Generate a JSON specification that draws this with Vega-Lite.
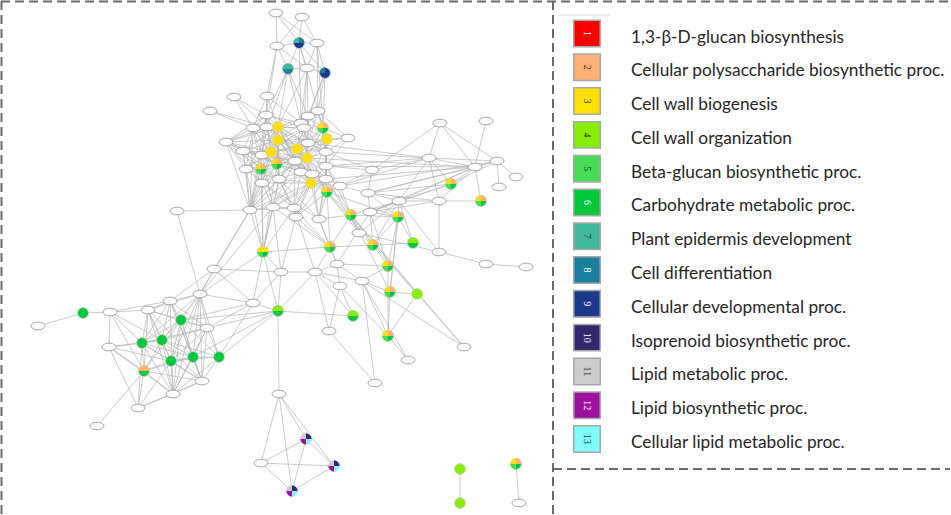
{
"$schema": "https://vega.github.io/schema/vega-lite/v6.json",
"width": 951, "height": 515,
"autosize": {"type": "fit", "contains": "padding"},
"padding": 0,
"background": "white",
"config": {"view": {"stroke": null}, "axis": {"disable": true}},
"datasets": {
"nodes": [
{"id":1,"x":276,"y":13,"k":"w"},{"id":2,"x":302,"y":17,"k":"w"},{"id":3,"x":277,"y":46,"k":"w"},{"id":4,"x":299,"y":43,"k":"c"},{"id":5,"x":317,"y":43,"k":"w"},
{"id":6,"x":288,"y":69,"k":"c"},{"id":7,"x":307,"y":68,"k":"w"},{"id":8,"x":325,"y":73,"k":"c"},{"id":9,"x":267,"y":96,"k":"w"},{"id":10,"x":318,"y":111,"k":"w"},
{"id":11,"x":308,"y":116,"k":"w"},{"id":12,"x":266,"y":115,"k":"w"},{"id":13,"x":301,"y":123,"k":"w"},{"id":14,"x":278,"y":127,"k":"c"},{"id":15,"x":323,"y":128,"k":"c"},
{"id":16,"x":267,"y":127,"k":"w"},{"id":17,"x":304,"y":128,"k":"w"},{"id":18,"x":278,"y":140,"k":"c"},{"id":19,"x":327,"y":139,"k":"c"},{"id":20,"x":348,"y":138,"k":"w"},
{"id":21,"x":253,"y":128,"k":"w"},{"id":22,"x":308,"y":143,"k":"w"},{"id":23,"x":271,"y":152,"k":"c"},{"id":24,"x":297,"y":149,"k":"c"},{"id":25,"x":326,"y":152,"k":"w"},
{"id":26,"x":307,"y":158,"k":"c"},{"id":27,"x":262,"y":155,"k":"w"},{"id":28,"x":277,"y":164,"k":"c"},{"id":29,"x":295,"y":161,"k":"w"},{"id":30,"x":261,"y":169,"k":"c"},
{"id":31,"x":246,"y":169,"k":"w"},{"id":33,"x":301,"y":172,"k":"w"},{"id":34,"x":312,"y":174,"k":"w"},{"id":35,"x":326,"y":166,"k":"w"},{"id":36,"x":326,"y":179,"k":"w"},
{"id":37,"x":311,"y":183,"k":"c"},{"id":38,"x":279,"y":179,"k":"w"},{"id":39,"x":262,"y":183,"k":"w"},{"id":40,"x":340,"y":186,"k":"w"},{"id":41,"x":327,"y":192,"k":"c"},
{"id":42,"x":372,"y":170,"k":"w"},{"id":43,"x":368,"y":193,"k":"w"},{"id":44,"x":250,"y":210,"k":"w"},{"id":45,"x":273,"y":207,"k":"w"},{"id":46,"x":294,"y":208,"k":"w"},
{"id":47,"x":296,"y":217,"k":"w"},{"id":48,"x":319,"y":219,"k":"w"},{"id":49,"x":351,"y":215,"k":"c"},{"id":50,"x":370,"y":212,"k":"w"},{"id":51,"x":399,"y":201,"k":"w"},
{"id":52,"x":398,"y":217,"k":"c"},{"id":53,"x":359,"y":233,"k":"w"},{"id":54,"x":413,"y":243,"k":"c"},{"id":55,"x":373,"y":245,"k":"c"},{"id":56,"x":330,"y":247,"k":"c"},
{"id":57,"x":263,"y":252,"k":"c"},{"id":58,"x":439,"y":252,"k":"w"},{"id":59,"x":429,"y":158,"k":"w"},{"id":60,"x":440,"y":123,"k":"w"},{"id":61,"x":486,"y":121,"k":"w"},
{"id":62,"x":475,"y":167,"k":"w"},{"id":63,"x":497,"y":161,"k":"w"},{"id":64,"x":516,"y":177,"k":"w"},{"id":65,"x":499,"y":187,"k":"w"},{"id":66,"x":451,"y":184,"k":"c"},
{"id":67,"x":481,"y":201,"k":"c"},{"id":68,"x":439,"y":201,"k":"w"},{"id":69,"x":234,"y":97,"k":"w"},{"id":70,"x":210,"y":111,"k":"w"},{"id":71,"x":226,"y":142,"k":"w"},
{"id":72,"x":243,"y":151,"k":"w"},{"id":73,"x":177,"y":211,"k":"w"},{"id":74,"x":388,"y":266,"k":"c"},{"id":75,"x":281,"y":272,"k":"w"},{"id":76,"x":315,"y":272,"k":"w"},
{"id":77,"x":337,"y":264,"k":"w"},{"id":78,"x":362,"y":281,"k":"w"},{"id":79,"x":340,"y":286,"k":"w"},{"id":80,"x":390,"y":292,"k":"c"},{"id":81,"x":417,"y":294,"k":"c"},
{"id":82,"x":253,"y":303,"k":"w"},{"id":83,"x":278,"y":311,"k":"c"},{"id":84,"x":353,"y":316,"k":"c"},{"id":85,"x":329,"y":331,"k":"w"},{"id":86,"x":486,"y":264,"k":"w"},
{"id":87,"x":526,"y":267,"k":"w"},{"id":88,"x":388,"y":336,"k":"c"},{"id":89,"x":464,"y":347,"k":"w"},{"id":90,"x":408,"y":360,"k":"w"},{"id":91,"x":375,"y":383,"k":"w"},
{"id":92,"x":279,"y":394,"k":"w"},{"id":93,"x":306,"y":439,"k":"c"},{"id":94,"x":261,"y":463,"k":"w"},{"id":95,"x":334,"y":466,"k":"c"},{"id":96,"x":292,"y":491,"k":"c"},
{"id":97,"x":460,"y":469,"k":"c"},{"id":98,"x":460,"y":503,"k":"c"},{"id":99,"x":516,"y":464,"k":"c"},{"id":100,"x":519,"y":503,"k":"w"},{"id":101,"x":214,"y":269,"k":"w"},
{"id":102,"x":200,"y":294,"k":"w"},{"id":103,"x":170,"y":301,"k":"w"},{"id":104,"x":83,"y":313,"k":"c"},{"id":105,"x":110,"y":312,"k":"w"},{"id":106,"x":148,"y":310,"k":"w"},
{"id":107,"x":181,"y":320,"k":"c"},{"id":108,"x":207,"y":328,"k":"w"},{"id":109,"x":109,"y":347,"k":"w"},{"id":110,"x":142,"y":343,"k":"c"},{"id":111,"x":162,"y":340,"k":"c"},
{"id":112,"x":171,"y":361,"k":"c"},{"id":113,"x":193,"y":357,"k":"c"},{"id":114,"x":219,"y":357,"k":"c"},{"id":115,"x":144,"y":371,"k":"c"},{"id":116,"x":202,"y":381,"k":"w"},
{"id":117,"x":173,"y":394,"k":"w"},{"id":118,"x":138,"y":408,"k":"w"},{"id":119,"x":97,"y":426,"k":"w"},{"id":120,"x":38,"y":326,"k":"w"}
],
"slices": [
{"id":4,"part":"full","cat":9},{"id":6,"part":"full","cat":8},{"id":8,"part":"full","cat":9},
{"id":14,"part":"full","cat":3},{"id":18,"part":"full","cat":3},{"id":19,"part":"full","cat":3},{"id":23,"part":"full","cat":3},
{"id":24,"part":"full","cat":3},{"id":26,"part":"full","cat":3},{"id":37,"part":"full","cat":3},
{"id":15,"part":"full","cat":6},{"id":28,"part":"full","cat":6},{"id":30,"part":"full","cat":6},{"id":41,"part":"full","cat":6},
{"id":49,"part":"full","cat":6},{"id":52,"part":"full","cat":6},{"id":55,"part":"full","cat":6},{"id":56,"part":"full","cat":6},
{"id":57,"part":"full","cat":6},{"id":66,"part":"full","cat":6},{"id":67,"part":"full","cat":6},{"id":74,"part":"full","cat":6},
{"id":80,"part":"full","cat":6},{"id":88,"part":"full","cat":6},{"id":99,"part":"full","cat":6},
{"id":54,"part":"full","cat":6},{"id":83,"part":"full","cat":6},{"id":84,"part":"full","cat":6},{"id":81,"part":"full","cat":4},
{"id":97,"part":"full","cat":4},{"id":98,"part":"full","cat":4},
{"id":104,"part":"full","cat":6},{"id":107,"part":"full","cat":6},{"id":110,"part":"full","cat":6},{"id":111,"part":"full","cat":6},
{"id":112,"part":"full","cat":6},{"id":113,"part":"full","cat":6},{"id":114,"part":"full","cat":6},{"id":115,"part":"full","cat":6},
{"id":93,"part":"full","cat":11},{"id":95,"part":"full","cat":11},{"id":96,"part":"full","cat":11}
],
"parts": [
{"id":4,"part":"tl","cat":7},{"id":4,"part":"tr","cat":8},{"id":6,"part":"top","cat":7},{"id":8,"part":"tl","cat":8},
{"id":15,"part":"bl","cat":5},{"id":15,"part":"tl","cat":3},{"id":15,"part":"tr","cat":2},
{"id":28,"part":"bl","cat":5},{"id":28,"part":"tl","cat":3},{"id":28,"part":"tr","cat":2},
{"id":30,"part":"bl","cat":5},{"id":30,"part":"tl","cat":3},{"id":30,"part":"tr","cat":2},
{"id":41,"part":"bl","cat":5},{"id":41,"part":"tl","cat":3},{"id":41,"part":"tr","cat":2},
{"id":49,"part":"bl","cat":5},{"id":49,"part":"tl","cat":3},{"id":49,"part":"tr","cat":2},
{"id":52,"part":"bl","cat":5},{"id":52,"part":"tl","cat":3},{"id":52,"part":"tr","cat":2},
{"id":55,"part":"bl","cat":5},{"id":55,"part":"tl","cat":3},{"id":55,"part":"tr","cat":2},
{"id":56,"part":"bl","cat":5},{"id":56,"part":"tl","cat":3},{"id":56,"part":"tr","cat":2},
{"id":57,"part":"bl","cat":5},{"id":57,"part":"tl","cat":3},{"id":57,"part":"tr","cat":3},
{"id":66,"part":"bl","cat":5},{"id":66,"part":"tl","cat":3},{"id":66,"part":"tr","cat":2},
{"id":67,"part":"bl","cat":5},{"id":67,"part":"tl","cat":3},{"id":67,"part":"tr","cat":2},
{"id":74,"part":"bl","cat":5},{"id":74,"part":"tl","cat":3},{"id":74,"part":"tr","cat":2},
{"id":80,"part":"bl","cat":5},{"id":80,"part":"tl","cat":3},{"id":80,"part":"tr","cat":2},
{"id":88,"part":"bl","cat":5},{"id":88,"part":"tl","cat":3},{"id":88,"part":"tr","cat":2},
{"id":99,"part":"bl","cat":5},{"id":99,"part":"tl","cat":3},{"id":99,"part":"tr","cat":2},
{"id":54,"part":"top","cat":4},{"id":83,"part":"top","cat":4},{"id":84,"part":"top","cat":4},{"id":115,"part":"top","cat":2},
{"id":93,"part":"tr","cat":10},{"id":93,"part":"bl","cat":12},{"id":93,"part":"br","cat":13},
{"id":95,"part":"tr","cat":10},{"id":95,"part":"bl","cat":12},{"id":95,"part":"br","cat":13},
{"id":96,"part":"tr","cat":10},{"id":96,"part":"bl","cat":12},{"id":96,"part":"br","cat":13}
],
"edges": [
{"s":1,"t":3},{"s":1,"t":4},{"s":1,"t":5},{"s":2,"t":4},{"s":2,"t":5},{"s":2,"t":3},{"s":3,"t":4},{"s":4,"t":5},{"s":3,"t":6},{"s":3,"t":7},
{"s":4,"t":7},{"s":4,"t":6},{"s":5,"t":7},{"s":5,"t":8},{"s":6,"t":7},{"s":7,"t":8},{"s":4,"t":8},
{"s":6,"t":12},{"s":6,"t":16},{"s":6,"t":13},{"s":6,"t":11},{"s":7,"t":11},{"s":7,"t":13},{"s":7,"t":14},{"s":8,"t":10},{"s":8,"t":11},
{"s":8,"t":15},{"s":3,"t":9},{"s":3,"t":12},{"s":6,"t":14},{"s":4,"t":10},{"s":5,"t":10},{"s":7,"t":17},{"s":8,"t":17},{"s":4,"t":13},{"s":5,"t":15},
{"s":9,"t":12},{"s":9,"t":13},{"s":9,"t":16},{"s":9,"t":14},{"s":10,"t":11},{"s":10,"t":13},{"s":10,"t":15},{"s":10,"t":17},{"s":10,"t":19},{"s":10,"t":20},
{"s":11,"t":13},{"s":11,"t":14},{"s":11,"t":15},{"s":11,"t":17},{"s":11,"t":19},{"s":11,"t":22},{"s":12,"t":13},{"s":12,"t":14},{"s":12,"t":16},
{"s":12,"t":18},{"s":12,"t":21},{"s":12,"t":17},{"s":13,"t":14},{"s":13,"t":17},{"s":13,"t":15},{"s":13,"t":18},{"s":13,"t":24},
{"s":14,"t":16},{"s":14,"t":17},{"s":14,"t":18},{"s":14,"t":21},{"s":14,"t":22},{"s":14,"t":23},{"s":14,"t":24},{"s":14,"t":26},{"s":14,"t":27},
{"s":14,"t":28},{"s":14,"t":29},{"s":14,"t":31},{"s":14,"t":33},{"s":14,"t":37},{"s":14,"t":38},{"s":14,"t":71},{"s":14,"t":72},
{"s":15,"t":17},{"s":15,"t":19},{"s":15,"t":22},{"s":15,"t":24},{"s":15,"t":25},{"s":15,"t":26},{"s":15,"t":35},{"s":15,"t":20},
{"s":16,"t":17},{"s":16,"t":18},{"s":16,"t":21},{"s":16,"t":23},{"s":16,"t":27},{"s":16,"t":28},{"s":16,"t":71},{"s":17,"t":18},{"s":17,"t":19},
{"s":17,"t":22},{"s":17,"t":24},{"s":17,"t":26},
{"s":18,"t":19},{"s":18,"t":21},{"s":18,"t":22},{"s":18,"t":23},{"s":18,"t":24},{"s":18,"t":25},{"s":18,"t":26},{"s":18,"t":27},{"s":18,"t":28},
{"s":18,"t":30},{"s":18,"t":33},{"s":18,"t":37},{"s":18,"t":38},{"s":18,"t":39},{"s":18,"t":71},{"s":18,"t":72},
{"s":19,"t":20},{"s":19,"t":22},{"s":19,"t":24},{"s":19,"t":25},{"s":19,"t":26},{"s":19,"t":35},{"s":19,"t":36},{"s":19,"t":37},
{"s":21,"t":23},{"s":21,"t":27},{"s":21,"t":28},{"s":21,"t":30},{"s":21,"t":31},{"s":21,"t":71},{"s":21,"t":72},{"s":21,"t":69},{"s":21,"t":70},
{"s":22,"t":23},{"s":22,"t":24},{"s":22,"t":26},{"s":22,"t":29},
{"s":23,"t":24},{"s":23,"t":26},{"s":23,"t":27},{"s":23,"t":28},{"s":23,"t":29},{"s":23,"t":30},{"s":23,"t":31},{"s":23,"t":33},{"s":23,"t":37},
{"s":23,"t":38},{"s":23,"t":39},{"s":23,"t":44},{"s":23,"t":71},{"s":23,"t":72},
{"s":24,"t":25},{"s":24,"t":26},{"s":24,"t":28},{"s":24,"t":29},{"s":24,"t":33},{"s":24,"t":34},{"s":24,"t":35},{"s":24,"t":37},{"s":24,"t":38},{"s":24,"t":41},
{"s":25,"t":26},{"s":25,"t":35},{"s":25,"t":36},{"s":25,"t":42},{"s":25,"t":20},
{"s":26,"t":28},{"s":26,"t":29},{"s":26,"t":33},{"s":26,"t":34},{"s":26,"t":35},{"s":26,"t":36},{"s":26,"t":37},{"s":26,"t":40},{"s":26,"t":41},
{"s":27,"t":28},{"s":27,"t":30},{"s":27,"t":31},{"s":27,"t":71},{"s":27,"t":72},{"s":28,"t":29},{"s":28,"t":30},{"s":28,"t":31},{"s":28,"t":37},
{"s":28,"t":38},{"s":28,"t":39},{"s":28,"t":72},{"s":29,"t":33},{"s":29,"t":37},{"s":29,"t":38},
{"s":30,"t":31},{"s":30,"t":39},{"s":30,"t":71},{"s":30,"t":72},{"s":30,"t":44},{"s":31,"t":72},{"s":31,"t":71},{"s":31,"t":39},{"s":31,"t":44},
{"s":33,"t":34},{"s":33,"t":37},{"s":33,"t":38},{"s":33,"t":46},{"s":34,"t":37},{"s":34,"t":36},{"s":34,"t":41},{"s":34,"t":46},{"s":34,"t":47},{"s":34,"t":48},
{"s":35,"t":36},{"s":35,"t":37},{"s":35,"t":41},{"s":35,"t":42},{"s":35,"t":59},
{"s":36,"t":37},{"s":36,"t":40},{"s":36,"t":41},{"s":36,"t":47},{"s":36,"t":48},{"s":36,"t":49},{"s":36,"t":53},{"s":36,"t":62},
{"s":37,"t":38},{"s":37,"t":39},{"s":37,"t":40},{"s":37,"t":41},{"s":37,"t":45},{"s":37,"t":46},{"s":37,"t":48},{"s":38,"t":39},{"s":38,"t":44},
{"s":38,"t":45},{"s":38,"t":46},{"s":39,"t":44},{"s":39,"t":45},{"s":39,"t":71},
{"s":40,"t":41},{"s":40,"t":43},{"s":40,"t":49},{"s":40,"t":63},{"s":40,"t":42},{"s":41,"t":47},{"s":41,"t":48},{"s":41,"t":49},{"s":41,"t":52},
{"s":41,"t":53},{"s":41,"t":89},
{"s":44,"t":71},{"s":44,"t":72},{"s":44,"t":27},{"s":44,"t":28},{"s":44,"t":21},{"s":44,"t":12},{"s":44,"t":45},{"s":44,"t":73},{"s":44,"t":101},
{"s":44,"t":102},{"s":44,"t":57},
{"s":45,"t":46},{"s":45,"t":29},{"s":45,"t":33},{"s":45,"t":57},{"s":45,"t":75},{"s":45,"t":102},{"s":46,"t":47},{"s":46,"t":29},{"s":46,"t":56},
{"s":46,"t":57},{"s":46,"t":76},{"s":47,"t":56},{"s":47,"t":75},{"s":48,"t":49},{"s":48,"t":56},{"s":48,"t":77},
{"s":69,"t":12},{"s":69,"t":16},{"s":70,"t":16},{"s":71,"t":72},
{"s":9,"t":21},{"s":12,"t":27},{"s":12,"t":23},{"s":13,"t":22},{"s":13,"t":26},{"s":16,"t":22},{"s":17,"t":23},{"s":17,"t":25},{"s":21,"t":29},
{"s":22,"t":25},{"s":22,"t":27},{"s":27,"t":29},{"s":29,"t":34},{"s":30,"t":38},{"s":31,"t":38},{"s":33,"t":36},{"s":35,"t":40},{"s":38,"t":47},
{"s":39,"t":46},{"s":45,"t":27},{"s":71,"t":12},{"s":72,"t":39},{"s":72,"t":38},{"s":10,"t":22},{"s":10,"t":25},{"s":20,"t":22},{"s":20,"t":35},
{"s":11,"t":24},{"s":11,"t":26},{"s":14,"t":25},{"s":16,"t":24},{"s":18,"t":29},{"s":18,"t":34},{"s":19,"t":33},{"s":19,"t":29},{"s":23,"t":34},
{"s":24,"t":36},{"s":26,"t":39},{"s":28,"t":33},{"s":28,"t":36},{"s":29,"t":36},{"s":37,"t":47},{"s":38,"t":48},{"s":39,"t":48},{"s":33,"t":41},
{"s":35,"t":48},{"s":36,"t":45},{"s":44,"t":46},{"s":44,"t":29},{"s":44,"t":33},{"s":44,"t":37},{"s":71,"t":28},{"s":72,"t":29},
{"s":57,"t":31},{"s":57,"t":30},{"s":57,"t":28},{"s":22,"t":59},{"s":25,"t":59},{"s":26,"t":62},{"s":35,"t":62},{"s":40,"t":59},
{"s":42,"t":59},{"s":42,"t":60},{"s":42,"t":43},{"s":43,"t":50},{"s":43,"t":51},{"s":43,"t":52},{"s":43,"t":62},{"s":43,"t":63},{"s":43,"t":66},{"s":43,"t":68},
{"s":59,"t":60},{"s":59,"t":62},{"s":59,"t":63},{"s":59,"t":66},{"s":59,"t":51},{"s":59,"t":68},{"s":60,"t":62},{"s":60,"t":63},{"s":61,"t":62},
{"s":62,"t":63},{"s":62,"t":66},{"s":62,"t":67},{"s":62,"t":68},{"s":62,"t":51},{"s":62,"t":50},{"s":63,"t":64},{"s":63,"t":65},{"s":63,"t":66},
{"s":66,"t":51},{"s":66,"t":50},{"s":67,"t":68},{"s":68,"t":51},{"s":68,"t":50},{"s":68,"t":58},
{"s":50,"t":51},{"s":50,"t":52},{"s":50,"t":55},{"s":50,"t":74},{"s":50,"t":77},{"s":51,"t":52},{"s":51,"t":49},{"s":51,"t":53},{"s":51,"t":55},
{"s":51,"t":54},{"s":51,"t":58},{"s":52,"t":54},{"s":52,"t":55},{"s":52,"t":49},{"s":52,"t":74},{"s":52,"t":80},{"s":53,"t":58},{"s":53,"t":55},
{"s":53,"t":49},{"s":54,"t":55},{"s":55,"t":49},{"s":55,"t":74},{"s":58,"t":86},{"s":86,"t":87},
{"s":49,"t":56},{"s":49,"t":35},{"s":49,"t":80},{"s":49,"t":81},{"s":49,"t":89},{"s":56,"t":55},{"s":56,"t":76},{"s":56,"t":77},{"s":56,"t":57},
{"s":56,"t":45},{"s":56,"t":41},
{"s":57,"t":83},{"s":57,"t":82},{"s":57,"t":75},{"s":57,"t":38},{"s":57,"t":39},{"s":74,"t":77},{"s":74,"t":78},{"s":74,"t":88},{"s":77,"t":76},
{"s":77,"t":79},{"s":77,"t":78},{"s":75,"t":76},{"s":75,"t":82},{"s":75,"t":83},{"s":75,"t":101},{"s":76,"t":79},{"s":76,"t":78},{"s":76,"t":83},
{"s":76,"t":85},{"s":76,"t":84},{"s":79,"t":88},{"s":79,"t":85},{"s":79,"t":84},
{"s":78,"t":80},{"s":78,"t":89},{"s":78,"t":88},{"s":78,"t":90},{"s":78,"t":91},{"s":80,"t":81},{"s":80,"t":88},{"s":80,"t":52},{"s":81,"t":88},
{"s":88,"t":90},{"s":85,"t":91},{"s":83,"t":84},{"s":83,"t":82},{"s":83,"t":92},
{"s":92,"t":93},{"s":92,"t":94},{"s":92,"t":95},{"s":92,"t":96},{"s":93,"t":94},{"s":93,"t":95},{"s":93,"t":96},{"s":94,"t":95},{"s":94,"t":96},
{"s":95,"t":96},{"s":97,"t":98},{"s":99,"t":100},
{"s":73,"t":102},{"s":101,"t":102},{"s":101,"t":103},{"s":101,"t":82},
{"s":102,"t":103},{"s":102,"t":107},{"s":102,"t":108},{"s":102,"t":111},{"s":102,"t":110},{"s":102,"t":113},{"s":102,"t":112},{"s":102,"t":114},
{"s":102,"t":116},{"s":102,"t":106},{"s":102,"t":117},{"s":102,"t":82},{"s":102,"t":57},
{"s":104,"t":105},{"s":104,"t":120},{"s":105,"t":103},{"s":105,"t":106},{"s":105,"t":109},{"s":105,"t":115},{"s":105,"t":110},{"s":105,"t":111},
{"s":106,"t":103},{"s":106,"t":107},{"s":106,"t":110},{"s":106,"t":111},{"s":106,"t":112},{"s":106,"t":113},{"s":106,"t":115},{"s":106,"t":117},
{"s":106,"t":108},{"s":103,"t":107},{"s":103,"t":108},{"s":103,"t":113},{"s":103,"t":111},{"s":103,"t":117},{"s":103,"t":116},{"s":103,"t":110},
{"s":107,"t":108},{"s":107,"t":110},{"s":107,"t":111},{"s":107,"t":112},{"s":107,"t":113},{"s":107,"t":114},{"s":107,"t":115},{"s":107,"t":116},
{"s":107,"t":117},{"s":108,"t":111},{"s":108,"t":112},{"s":108,"t":113},{"s":108,"t":114},{"s":108,"t":116},{"s":108,"t":117},{"s":108,"t":110},
{"s":109,"t":110},{"s":109,"t":111},{"s":109,"t":112},{"s":109,"t":115},{"s":109,"t":118},{"s":109,"t":117},
{"s":110,"t":111},{"s":110,"t":112},{"s":110,"t":113},{"s":110,"t":115},{"s":110,"t":116},{"s":110,"t":117},{"s":110,"t":118},
{"s":111,"t":112},{"s":111,"t":113},{"s":111,"t":114},{"s":111,"t":115},{"s":111,"t":116},{"s":111,"t":117},
{"s":112,"t":113},{"s":112,"t":114},{"s":112,"t":115},{"s":112,"t":116},{"s":112,"t":117},{"s":112,"t":118},
{"s":113,"t":114},{"s":113,"t":115},{"s":113,"t":116},{"s":113,"t":117},{"s":114,"t":116},{"s":114,"t":117},{"s":114,"t":83},{"s":114,"t":82},
{"s":115,"t":116},{"s":115,"t":117},{"s":115,"t":118},{"s":115,"t":119},{"s":116,"t":117},{"s":116,"t":118},{"s":117,"t":118},
{"s":83,"t":107},{"s":83,"t":108},{"s":83,"t":113},{"s":82,"t":107},{"s":82,"t":108}
],
"legend": [
{"cat":1,"label":"1,3-β-D-glucan biosynthesis"},
{"cat":2,"label":"Cellular polysaccharide biosynthetic proc."},
{"cat":3,"label":"Cell wall biogenesis"},
{"cat":4,"label":"Cell wall organization"},
{"cat":5,"label":"Beta-glucan biosynthetic proc."},
{"cat":6,"label":"Carbohydrate metabolic proc."},
{"cat":7,"label":"Plant epidermis development"},
{"cat":8,"label":"Cell differentiation"},
{"cat":9,"label":"Cellular developmental proc."},
{"cat":10,"label":"Isoprenoid biosynthetic proc."},
{"cat":11,"label":"Lipid metabolic proc."},
{"cat":12,"label":"Lipid biosynthetic proc."},
{"cat":13,"label":"Cellular lipid metabolic proc."}
]
},
"resolve": {"scale": {"y": "independent"}},
"layer": [
{
"data": {"name": "edges"},
"transform": [
{"lookup": "s", "from": {"data": {"name": "nodes"}, "key": "id", "fields": ["x", "y"]}, "as": ["sx", "sy"]},
{"lookup": "t", "from": {"data": {"name": "nodes"}, "key": "id", "fields": ["x", "y"]}, "as": ["tx", "ty"]}
],
"mark": {"type": "rule", "color": "#b4b4b4", "strokeWidth": 0.7},
"encoding": {
"x": {"field": "sx", "type": "quantitative", "scale": {"domain": [0, 951], "nice": false, "zero": false}},
"y": {"field": "sy", "type": "quantitative", "scale": {"domain": [0, 515], "reverse": true, "nice": false, "zero": false}},
"x2": {"field": "tx"},
"y2": {"field": "ty"}
}
},
{
"data": {"name": "nodes"},
"transform": [{"filter": "datum.k === 'w'"}],
"mark": {"type": "point", "filled": true, "fill": "white", "stroke": "#8c8c8c", "strokeWidth": 0.8, "opacity": 1, "size": 190,
"shape": "M-1,0A1,0.55 0 1,1 1,0A1,0.55 0 1,1 -1,0Z"},
"encoding": {
"x": {"field": "x", "type": "quantitative", "scale": {"domain": [0, 951], "nice": false, "zero": false}},
"y": {"field": "y", "type": "quantitative", "scale": {"domain": [0, 515], "reverse": true, "nice": false, "zero": false}}
}
},
{
"data": {"name": "slices"},
"transform": [{"lookup": "id", "from": {"data": {"name": "nodes"}, "key": "id", "fields": ["x", "y"]}}],
"mark": {"type": "point", "filled": true, "opacity": 1, "size": 120, "stroke": "#d0d0d0", "strokeWidth": 0.8, "shape": "circle"},
"encoding": {
"x": {"field": "x", "type": "quantitative", "scale": {"domain": [0, 951], "nice": false, "zero": false}},
"y": {"field": "y", "type": "quantitative", "scale": {"domain": [0, 515], "reverse": true, "nice": false, "zero": false}},
"color": {"field": "cat", "type": "nominal", "legend": null,
"scale": {"domain": [1,2,3,4,5,6,7,8,9,10,11,12,13],
"range": ["#f80000","#fdb174","#ffe000","#88ee00","#44dd55","#00c83c","#40b89c","#1a80a0","#1c3a8c","#33286e","#cccccc","#a010a0","#80fcfc"]}}
}
},
{
"data": {"name": "parts"},
"transform": [{"lookup": "id", "from": {"data": {"name": "nodes"}, "key": "id", "fields": ["x", "y"]}}],
"mark": {"type": "point", "filled": true, "opacity": 1, "size": 120},
"encoding": {
"x": {"field": "x", "type": "quantitative", "scale": {"domain": [0, 951], "nice": false, "zero": false}},
"y": {"field": "y", "type": "quantitative", "scale": {"domain": [0, 515], "reverse": true, "nice": false, "zero": false}},
"color": {"field": "cat", "type": "nominal", "legend": null},
"shape": {"field": "part", "type": "nominal", "legend": null,
"scale": {"domain": ["top", "tl", "tr", "bl", "br"],
"range": ["M-1,0A1,1 0 0,1 1,0Z", "M0,0L-1,0A1,1 0 0,1 0,-1Z", "M0,0L0,-1A1,1 0 0,1 1,0Z", "M0,0L0,1A1,1 0 0,1 -1,0Z", "M0,0L1,0A1,1 0 0,1 0,1Z"]}}
}
},
{
"data": {"name": "legend"},
"mark": {"type": "point", "shape": "square", "filled": true, "opacity": 1, "size": 700, "stroke": "#a8a8a8", "strokeWidth": 1.5},
"encoding": {
"x": {"datum": 587, "type": "quantitative", "scale": {"domain": [0, 951], "nice": false, "zero": false}},
"y": {"field": "cat", "type": "ordinal", "scale": {"type": "point", "range": [33.5, 439], "padding": 0}},
"color": {"field": "cat", "type": "nominal", "legend": null}
}
},
{
"data": {"name": "legend"},
"mark": {"type": "text", "angle": 90, "font": "Liberation Serif", "fontSize": 10, "align": "center", "baseline": "middle"},
"encoding": {
"x": {"datum": 587, "type": "quantitative", "scale": {"domain": [0, 951], "nice": false, "zero": false}},
"y": {"field": "cat", "type": "ordinal", "scale": {"type": "point", "range": [33.5, 439], "padding": 0}},
"text": {"field": "cat", "type": "nominal"},
"color": {"condition": {"test": "indexof([1,6,8,9,10,12], datum.cat) >= 0", "value": "#ffffff"}, "value": "#333333"}
}
},
{
"data": {"name": "legend"},
"mark": {"type": "text", "font": "Lato", "fontSize": 17.3, "align": "left", "baseline": "middle", "dy": 4, "color": "#262626"},
"encoding": {
"x": {"datum": 631, "type": "quantitative", "scale": {"domain": [0, 951], "nice": false, "zero": false}},
"y": {"field": "cat", "type": "ordinal", "scale": {"type": "point", "range": [33.5, 439], "padding": 0}},
"text": {"field": "label", "type": "nominal"}
}
},
{
"data": {"values": [{}]},
"mark": {"type": "rule", "color": "#6a6a6a", "strokeWidth": 2, "strokeDash": [9, 5]},
"encoding": {"x": {"datum": 1, "type": "quantitative"}, "x2": {"datum": 950}, "y": {"datum": 1.5, "type": "quantitative", "scale": {"domain": [0, 515], "reverse": true, "nice": false, "zero": false}}}
},
{
"data": {"values": [{}]},
"mark": {"type": "rule", "color": "#6a6a6a", "strokeWidth": 2, "strokeDash": [9, 5]},
"encoding": {"x": {"datum": 1.5, "type": "quantitative"}, "y": {"datum": 1, "type": "quantitative", "scale": {"domain": [0, 515], "reverse": true, "nice": false, "zero": false}}, "y2": {"datum": 514}}
},
{
"data": {"values": [{}]},
"mark": {"type": "rule", "color": "#6a6a6a", "strokeWidth": 2, "strokeDash": [9, 5]},
"encoding": {"x": {"datum": 553, "type": "quantitative"}, "y": {"datum": 1, "type": "quantitative", "scale": {"domain": [0, 515], "reverse": true, "nice": false, "zero": false}}, "y2": {"datum": 514}}
},
{
"data": {"values": [{}]},
"mark": {"type": "rule", "color": "#6a6a6a", "strokeWidth": 2, "strokeDash": [9, 5]},
"encoding": {"x": {"datum": 553, "type": "quantitative"}, "x2": {"datum": 950}, "y": {"datum": 469, "type": "quantitative", "scale": {"domain": [0, 515], "reverse": true, "nice": false, "zero": false}}}
},
{
"data": {"values": [{}]},
"mark": {"type": "rule", "color": "#dddddd", "strokeWidth": 1},
"encoding": {"x": {"datum": 558, "type": "quantitative"}, "x2": {"datum": 610}, "y": {"datum": 15, "type": "quantitative", "scale": {"domain": [0, 515], "reverse": true, "nice": false, "zero": false}}}
}
]
}
